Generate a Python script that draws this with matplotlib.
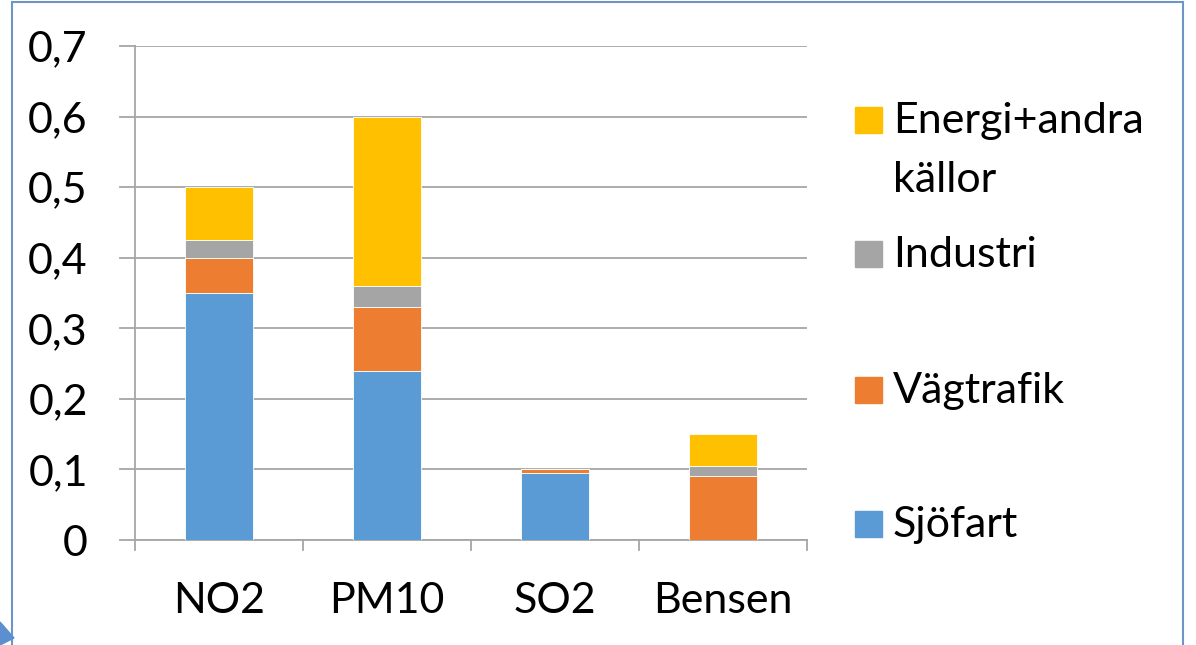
import matplotlib.pyplot as plt
import matplotlib.patches as mpatches
import numpy as np

plt.rcParams['font.family'] = ['Lato', 'DejaVu Sans']

categories = ['NO2', 'PM10', 'SO2', 'Bensen']
series_names = ['Sjöfart', 'Vägtrafik', 'Industri', 'Energi+andra\nkällor']
sjofart = [0.35, 0.24, 0.095, 0.0]
vagtrafik = [0.05, 0.09, 0.005, 0.09]
industri = [0.025, 0.03, 0.0, 0.015]
energi = [0.075, 0.24, 0.0, 0.045]
yticks = [0, 0.1, 0.2, 0.3, 0.4, 0.5, 0.6, 0.7]
ytick_labels = ['0', '0,1', '0,2', '0,3', '0,4', '0,5', '0,6', '0,7']

colors = ['#5b9bd5', '#ed7d31', '#a5a5a5', '#ffc000']
grid_col = '#a6a6a6'
fs = 31

W, H = 1196, 645
fig = plt.figure(figsize=(W / 100, H / 100), dpi=100)
ax = fig.add_axes([135 / W, 1 - 540 / H, (807 - 135) / W, (540 - 46) / H])

x = np.arange(len(categories))
bottom = np.zeros(len(categories))
for vals, col in zip([sjofart, vagtrafik, industri, energi], colors):
    ax.bar(x, vals, width=0.4, bottom=bottom, color=col, edgecolor='white', linewidth=0.6, zorder=3)
    bottom += np.array(vals)

ax.set_xlim(-0.5, len(categories) - 0.5)
ax.set_ylim(0, 0.7)
ax.set_yticks(yticks)
ax.set_yticklabels(ytick_labels, fontsize=fs)
ax.set_xticks(x)
ax.set_xticklabels(categories, fontsize=fs)
ax.tick_params(axis='x', length=0, pad=30)
ax.tick_params(axis='y', length=0, pad=34)
ax.grid(axis='y', color=grid_col, linewidth=1.3, zorder=0)
for s in ['top', 'right']:
    ax.spines[s].set_visible(False)
for s in ['left', 'bottom']:
    ax.spines[s].set_color(grid_col)
    ax.spines[s].set_linewidth(1.3)

# tick marks: y to the left, x below at category boundaries
for yv in yticks:
    ax.plot([-0.5 - 15 / 168, -0.5], [yv, yv], color=grid_col, lw=1.3, clip_on=False)
for b in np.arange(-0.5, len(categories), 1.0):
    ax.plot([b, b], [0, -10 / 706], color=grid_col, lw=1.3, clip_on=False)

# legend placed like the original (baselines in pixels)
leg_items = [(series_names[3], colors[3], 133), (series_names[2], colors[2], 267),
             (series_names[1], colors[1], 403), (series_names[0], colors[0], 537)]
for name, col, base in leg_items:
    fig.patches.append(mpatches.Rectangle((855 / W, 1 - base / H), 27 / W, 26 / H,
                                          transform=fig.transFigure, color=col))
    for i, line in enumerate(name.split('\n')):
        fig.text(893 / W, 1 - (base + 59 * i) / H, line, fontsize=fs, va='baseline', ha='left')

# frame
fig.patches.append(mpatches.Rectangle((12 / W, -0.01), (1183 - 12) / W, 1 - 2 / H + 0.01,
                                      transform=fig.transFigure, fill=False,
                                      edgecolor='#6f95c6', linewidth=1.5))
fig.patches.append(mpatches.Polygon([[0, 1 - 622 / H], [14 / W, 1 - 638 / H], [0, 0]],
                                    transform=fig.transFigure, color='#5b8fd0'))

fig.savefig('out.png', dpi=100)
